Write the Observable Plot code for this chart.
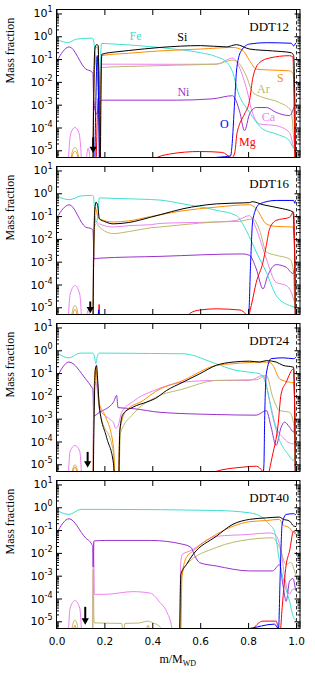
<!DOCTYPE html>
<html><head><meta charset="utf-8">
<script src="https://cdn.jsdelivr.net/npm/d3@7"></script>
<script src="https://cdn.jsdelivr.net/npm/@observablehq/plot@0.6"></script>
<style>
body{margin:0;background:#fff;}
#chart{width:315px;}
#chart svg{display:block;}
</style></head><body><div id="chart"></div><script>
// ---- categories ----
const panelNames = ["DDT12", "DDT16", "DDT24", "DDT40"];
const speciesNames = ["Fe", "Si", "S", "Ar", "Ca", "Ni", "O", "Mg"];
const speciesColors = ["#40E0D0", "#000000", "#FF8C00", "#BDB76B", "#EE82EE", "#9932CC", "#0000FF", "#FF0000"];
const drawOrder = ["Ca", "Ar", "Ni", "Fe", "S", "Si", "Mg", "O"];
const majorTicks = [1e-5, 1e-4, 1e-3, 1e-2, 1e-1, 1, 10];
const minorMultipliers = [2, 3, 4, 5, 6, 7, 8, 9];
const xTicks = [0, 0.2, 0.4, 0.6, 0.8, 1.0];
const xTickLabels = ["0.0", "0.2", "0.4", "0.6", "0.8", "1.0"];

// ---- arrows (m/M_WD position, top and tip mass fraction) ----
const arrowX = [0.151, 0.139, 0.128, 0.118];
const arrowTop = [3.7e-5, 1.8e-5, 3.5e-5, 4.3e-5];
const arrowTip = [8.3e-6, 6e-6, 7.9e-6, 7.8e-6];

// ---- species labels (panel DDT12) ----
const labelSp = ["Fe", "Si", "Ni", "S", "Ar", "Ca", "O", "Mg"];
const labelX = [0.328, 0.523, 0.528, 0.933, 0.862, 0.883, 0.699, 0.795];
const labelY = [1.1, 1.0, 3.6e-3, 0.0155, 5.1e-3, 3.1e-4, 1.5e-4, 2.5e-5];

// ---- DDT12 ----
const ddt12Fe = [[0,0.74],[0.047,0.56],[0.082,0.79],[0.145,0.87],[0.15,0.85],[0.155,0.5],[0.162,0.1],[0.17,0.01],[0.175,8e-4],[0.18,0.03],[0.186,0.51],[0.25,0.47],[0.3,0.44],[0.35,0.4],[0.43,0.34],[0.5,0.28],[0.6,0.2],[0.66,0.14],[0.71,0.074],[0.735,0.025],[0.755,4e-3],[0.8,5.6e-4],[0.86,8.9e-5],[0.917,5.4e-5],[0.97,2.8e-5],[0.99,1.3e-5],[0.997,3e-5]];
const ddt12Si = [[0.148,1e-9],[0.153,1e-3],[0.158,0.3],[0.165,0.45],[0.172,0.42],[0.176,1e-3],[0.18,1e-7],[0.183,1e-3],[0.187,0.17],[0.25,0.22],[0.3,0.25],[0.43,0.34],[0.6,0.41],[0.707,0.36],[0.749,0.45],[0.804,0.29],[0.9,0.24],[0.978,0.2],[0.988,0.15],[0.993,1e-3],[0.996,1e-7]];
const ddt12S = [[0.055,1e-6],[0.062,5e-6],[0.068,8e-6],[0.075,9.5e-6],[0.082,8e-6],[0.088,5e-6],[0.095,1e-6],[0.102,1e-8],[0.148,1e-9],[0.153,1e-3],[0.158,0.25],[0.165,0.35],[0.172,0.3],[0.176,1e-3],[0.18,1e-7],[0.183,1e-3],[0.187,0.15],[0.3,0.19],[0.43,0.24],[0.6,0.29],[0.735,0.34],[0.776,0.25],[0.804,0.09],[0.832,0.038],[0.8875,0.035],[0.971,0.032],[0.985,0.025],[0.993,1e-3],[0.996,1e-7]];
const ddt12Ar = [[0.05,1e-6],[0.058,4e-6],[0.065,1e-5],[0.075,1.4e-5],[0.085,1e-5],[0.092,4e-6],[0.1,1e-6],[0.108,1e-8],[0.148,1e-9],[0.152,1e-3],[0.158,0.05],[0.165,0.1],[0.172,0.06],[0.178,2e-3],[0.186,0.045],[0.3,0.05],[0.5,0.057],[0.665,0.063],[0.735,0.095],[0.7625,0.063],[0.79,0.0195],[0.818,3.6e-3],[0.86,2.2e-3],[0.929,1.3e-3],[0.978,5.6e-4],[0.99,2.5e-5],[0.996,1.5e-5]];
const ddt12Ca = [[0.04,1e-7],[0.045,1e-6],[0.05,1e-5],[0.058,6e-5],[0.075,1.05e-4],[0.092,6e-5],[0.1,1e-5],[0.105,1e-6],[0.112,1e-7],[0.12,2e-6],[0.13,1.3e-5],[0.14,2e-6],[0.145,1e-7],[0.149,1e-8],[0.152,1e-3],[0.156,0.05],[0.165,0.12],[0.172,0.07],[0.178,5e-3],[0.186,0.063],[0.5,0.062],[0.665,0.063],[0.735,0.117],[0.755,0.063],[0.79,6e-3],[0.818,4.1e-4],[0.846,1.5e-4],[0.915,1.26e-4],[0.971,6.3e-5],[0.99,1.26e-5],[0.996,1e-5]];
const ddt12Ni = [[0,0.089],[0.051,0.36],[0.121,0.038],[0.145,0.029],[0.15,0.025],[0.153,2e-3],[0.165,4e-4],[0.175,1e-3],[0.186,1.66e-3],[0.5,1.66e-3],[0.65,1.9e-3],[0.733,2.6e-3],[0.762,5.6e-4],[0.783,7.6e-5],[0.804,4.1e-4],[0.832,7.9e-4],[0.874,7.9e-4],[0.915,4.8e-4],[0.971,3.5e-4],[0.99,8.5e-4]];
const ddt12O = [[0.155,1e-8],[0.162,1e-3],[0.168,0.15],[0.174,1e-3],[0.18,1e-8],[0.3,1e-7],[0.5,3e-6],[0.6,4.5e-6],[0.7,5.5e-6],[0.725,6e-6],[0.73,1.4e-5],[0.742,1.6e-3],[0.751,0.045],[0.77,0.25],[0.804,0.48],[0.874,0.55],[0.978,0.52],[0.988,0.4],[0.996,0.52]];
const ddt12Mg = [[0.16,1e-8],[0.167,1e-4],[0.172,2e-3],[0.177,1e-4],[0.182,1e-8],[0.3,1e-7],[0.4,4e-6],[0.47,7.2e-6],[0.596,9.3e-6],[0.69,8.5e-6],[0.73,5e-6],[0.742,8e-6],[0.751,5.4e-5],[0.76,1.26e-4],[0.783,4.1e-4],[0.804,1.6e-3],[0.818,0.0166],[0.846,0.074],[0.8875,0.117],[0.971,0.148],[0.985,0.13],[0.99,1e-3],[0.995,1e-7]];

// ---- DDT16 ----
const ddt16Fe = [[0,0.79],[0.051,0.55],[0.1,0.8],[0.145,0.85],[0.152,0.8],[0.157,0.2],[0.163,0.057],[0.17,0.1],[0.177,0.66],[0.25,0.62],[0.39,0.56],[0.43,0.53],[0.526,0.36],[0.665,0.19],[0.749,0.11],[0.79,0.025],[0.832,2.8e-3],[0.874,3.6e-4],[0.915,3.5e-5],[0.971,1.26e-5],[0.99,1.1e-5],[0.996,1.4e-5]];
const ddt16Si = [[0.148,1e-9],[0.153,1e-3],[0.158,0.2],[0.163,0.43],[0.17,0.3],[0.177,0.08],[0.2,0.06],[0.235,0.048],[0.3,0.055],[0.39,0.093],[0.43,0.12],[0.526,0.22],[0.665,0.36],[0.78,0.4],[0.804,0.41],[0.815,0.45],[0.86,0.33],[0.943,0.22],[0.985,0.16],[0.993,1e-3],[0.996,1e-7]];
const ddt16S = [[0.062,2e-6],[0.068,6e-6],[0.075,8.5e-6],[0.082,6e-6],[0.088,2e-6],[0.095,1e-8],[0.148,1e-9],[0.153,1e-3],[0.158,0.26],[0.163,0.2],[0.17,0.1],[0.177,0.08],[0.235,0.058],[0.3,0.065],[0.39,0.1],[0.43,0.12],[0.526,0.18],[0.665,0.26],[0.804,0.33],[0.832,0.22],[0.874,0.048],[0.915,0.037],[0.985,0.035],[0.993,1e-3],[0.996,1e-7]];
const ddt16Ar = [[0.055,1e-6],[0.062,5e-6],[0.068,1e-5],[0.075,1.26e-5],[0.082,1e-5],[0.088,5e-6],[0.095,1e-6],[0.102,1e-8],[0.148,1e-9],[0.152,1e-3],[0.158,0.04],[0.165,0.05],[0.177,0.035],[0.235,0.018],[0.3,0.022],[0.39,0.032],[0.43,0.035],[0.526,0.044],[0.665,0.058],[0.7625,0.062],[0.818,0.08],[0.846,0.025],[0.874,2.8e-3],[0.915,2e-3],[0.971,1.4e-3],[0.985,6e-4],[0.993,1e-5]];
const ddt16Ca = [[0.04,1e-7],[0.047,3e-6],[0.055,4e-5],[0.075,9.5e-5],[0.095,4e-5],[0.103,3e-6],[0.11,1e-7],[0.118,1e-6],[0.13,8e-6],[0.142,1e-6],[0.148,1e-8],[0.152,1e-3],[0.157,0.05],[0.165,0.06],[0.177,0.048],[0.235,0.035],[0.3,0.04],[0.39,0.044],[0.43,0.05],[0.526,0.054],[0.665,0.058],[0.749,0.068],[0.804,0.11],[0.832,0.029],[0.874,1.4e-3],[0.915,1.3e-4],[0.957,9.5e-5],[0.985,3e-5],[0.993,1.5e-5]];
const ddt16Ni = [[0,0.093],[0.051,0.33],[0.119,0.035],[0.145,0.029],[0.15,0.025],[0.155,1.4e-3],[0.177,1.5e-3],[0.43,1.8e-3],[0.776,2.3e-3],[0.804,2e-3],[0.832,5.1e-4],[0.86,6.8e-5],[0.88,2.6e-4],[0.915,7.8e-4],[0.957,6e-4],[0.985,3.2e-4],[0.996,1e-3]];
const ddt16O = [[0.168,1e-8],[0.174,8e-6],[0.18,1e-8],[0.4,1e-7],[0.6,4.5e-6],[0.78,5e-6],[0.795,4.5e-6],[0.801,6.5e-6],[0.808,7.2e-4],[0.818,0.079],[0.846,0.36],[0.915,0.51],[0.988,0.51],[0.993,0.38],[0.996,0.5]];
const ddt16Mg = [[0.171,1e-8],[0.176,1.4e-5],[0.181,1e-8],[0.45,1e-7],[0.554,5.6e-6],[0.596,8e-6],[0.665,9e-6],[0.764,8e-6],[0.79,5e-6],[0.797,4e-6],[0.811,1.26e-5],[0.832,1.3e-4],[0.86,1e-3],[0.874,5.4e-3],[0.8875,0.029],[0.915,0.068],[0.971,0.093],[0.9875,0.16],[0.993,1e-3],[0.996,1e-7]];

// ---- DDT24 ----
const ddt24Fe = [[0,0.81],[0.05,0.49],[0.096,0.79],[0.15,0.79],[0.156,0.6],[0.1625,0.27],[0.169,0.6],[0.177,0.79],[0.39,0.76],[0.526,0.74],[0.58,0.58],[0.62,0.4],[0.665,0.27],[0.735,0.15],[0.804,0.115],[0.846,0.098],[0.874,0.03],[0.901,1.2e-3],[0.929,1.2e-4],[0.964,3e-5],[0.9875,1.55e-5],[0.996,4e-5]];
const ddt24Si = [[0.148,1e-9],[0.155,1e-3],[0.16,0.15],[0.165,0.23],[0.17,0.05],[0.177,3.4e-3],[0.207,1.6e-4],[0.236,1.1e-5],[0.245,1e-7],[0.255,1e-7],[0.2625,3.2e-4],[0.276,1.7e-3],[0.318,3.4e-3],[0.374,5.6e-3],[0.41,8e-3],[0.457,0.018],[0.526,0.042],[0.596,0.098],[0.665,0.23],[0.735,0.32],[0.804,0.35],[0.846,0.32],[0.874,0.37],[0.915,0.32],[0.943,0.23],[0.9875,0.19],[0.993,1e-3],[0.996,1e-7]];
const ddt24S = [[0.062,2e-6],[0.068,5.5e-6],[0.075,8e-6],[0.082,5.5e-6],[0.088,2e-6],[0.095,1e-8],[0.148,1e-9],[0.153,1e-3],[0.158,0.1],[0.1625,0.19],[0.168,0.05],[0.177,4.8e-3],[0.2,1.5e-3],[0.236,5.9e-5],[0.243,1e-6],[0.25,1e-7],[0.256,1e-6],[0.262,3.2e-4],[0.29,2.4e-3],[0.36,6.6e-3],[0.41,0.016],[0.526,0.05],[0.665,0.23],[0.735,0.27],[0.86,0.32],[0.89,0.3],[0.905,0.2],[0.929,0.059],[0.971,0.042],[0.988,0.04],[0.993,1e-3],[0.996,1e-7]];
const ddt24Ar = [[0.058,2e-6],[0.065,6e-6],[0.075,1e-5],[0.085,6e-6],[0.092,2e-6],[0.1,1e-8],[0.148,1e-9],[0.153,1e-3],[0.158,0.05],[0.1625,0.15],[0.168,0.04],[0.177,2.9e-3],[0.236,3.2e-5],[0.245,1e-7],[0.255,1e-7],[0.265,2.5e-4],[0.318,1.7e-3],[0.41,8.9e-3],[0.526,0.021],[0.665,0.05],[0.832,0.054],[0.874,0.083],[0.901,9.3e-3],[0.929,2.4e-3],[0.971,2e-3],[0.988,6.3e-4],[0.996,2e-5]];
const ddt24Ca = [[0.04,1e-7],[0.047,3e-6],[0.055,4e-5],[0.075,7e-5],[0.095,4e-5],[0.103,3e-6],[0.11,1e-7],[0.148,1e-9],[0.152,1e-3],[0.157,0.03],[0.1625,0.042],[0.168,0.02],[0.177,2.9e-3],[0.22,1e-3],[0.236,7e-4],[0.245,4e-4],[0.255,5e-4],[0.27,2e-3],[0.318,6e-3],[0.41,0.019],[0.526,0.042],[0.665,0.05],[0.804,0.05],[0.86,0.083],[0.8875,6.6e-3],[0.915,4.5e-4],[0.943,1.6e-4],[0.985,8.3e-5],[0.996,1e-4]];
const ddt24Ni = [[0,0.069],[0.05,0.32],[0.119,0.059],[0.145,0.025],[0.15,0.02],[0.153,1.4e-3],[0.177,2e-3],[0.236,5.6e-3],[0.249,0.011],[0.255,3.2e-3],[0.318,2.9e-3],[0.43,2e-3],[0.665,1.6e-3],[0.832,1.5e-3],[0.874,2.4e-3],[0.894,4.5e-4],[0.915,7e-5],[0.936,4.5e-4],[0.95,7.4e-4],[0.971,4.5e-4],[0.988,2.7e-4],[0.996,1e-3]];
const ddt24O = [[0.6,4e-6],[0.86,4e-6],[0.864,1e-5],[0.867,8.7e-4],[0.874,0.098],[0.894,0.45],[0.943,0.49],[0.988,0.45],[0.996,0.5]];
const ddt24Mg = [[0.62,1e-6],[0.66,5e-6],[0.776,7.9e-6],[0.832,8.7e-6],[0.86,5e-6],[0.875,3e-6],[0.901,3e-5],[0.922,4.5e-4],[0.936,0.013],[0.957,0.042],[0.9875,0.16],[0.993,1e-3],[0.996,1e-7]];

// ---- DDT40 ----
const ddt40Fe = [[0,0.76],[0.05,0.51],[0.1,0.85],[0.2,0.85],[0.665,0.76],[0.804,0.6],[0.86,0.36],[0.886,0.19],[0.908,0.093],[0.929,4.6e-3],[0.95,4.4e-4],[0.971,7.9e-5],[0.988,1.5e-5],[0.996,1.2e-5]];
const ddt40Si = [[0.508,1e-9],[0.513,1e-5],[0.517,1.2e-3],[0.54,3.2e-3],[0.568,8.9e-3],[0.665,0.056],[0.735,0.19],[0.804,0.31],[0.874,0.36],[0.929,0.39],[0.943,0.32],[0.971,0.26],[0.9875,0.16],[0.997,0.15]];
const ddt40S = [[0.065,2e-6],[0.07,5e-6],[0.075,7e-6],[0.08,5e-6],[0.085,2e-6],[0.09,1e-8],[0.36,1e-8],[0.372,3e-6],[0.38,7e-6],[0.388,3e-6],[0.4,1e-8],[0.51,1e-9],[0.518,1e-5],[0.522,1e-3],[0.54,6.5e-3],[0.568,0.0126],[0.665,0.068],[0.735,0.155],[0.804,0.245],[0.874,0.275],[0.929,0.31],[0.943,0.18],[0.971,0.13],[0.9875,0.08],[0.997,0.07]];
const ddt40Ar = [[0.058,2e-6],[0.065,7e-6],[0.075,1.2e-5],[0.085,7e-6],[0.092,2e-6],[0.1,1e-8],[0.147,1e-9],[0.151,2e-3],[0.155,9e-6],[0.2,8.7e-6],[0.27,8.5e-6],[0.277,3e-6],[0.284,8.5e-6],[0.34,8.8e-6],[0.38,1.07e-5],[0.4,9e-6],[0.43,6e-6],[0.45,1e-7],[0.51,1e-9],[0.517,1.2e-4],[0.522,1.2e-3],[0.54,3.2e-3],[0.665,0.018],[0.804,0.041],[0.9,0.048],[0.929,0.018],[0.957,3.2e-3],[0.975,4e-3],[0.996,1.2e-3]];
const ddt40Ca = [[0.04,1e-7],[0.047,3e-6],[0.055,4e-5],[0.075,8.5e-5],[0.095,4e-5],[0.103,3e-6],[0.11,1e-7],[0.147,1e-9],[0.151,1e-3],[0.153,0.03],[0.156,1.6e-4],[0.2,1.6e-4],[0.318,2.1e-4],[0.39,1.8e-4],[0.43,7e-5],[0.457,2.9e-5],[0.48,5e-6],[0.49,1e-7],[0.512,1e-7],[0.516,3e-3],[0.523,9e-3],[0.554,0.0126],[0.665,0.056],[0.804,0.068],[0.886,0.079],[0.908,0.07],[0.936,0.0126],[0.95,1e-3],[0.971,1.6e-4],[0.985,2.8e-4],[0.996,2.5e-4]];
const ddt40Ni = [[0,0.083],[0.05,0.33],[0.119,0.048],[0.145,0.025],[0.149,0.02],[0.151,2.5e-3],[0.154,0.035],[0.2,0.037],[0.39,0.037],[0.526,0.025],[0.56,0.018],[0.575,8e-3],[0.596,3.9e-3],[0.665,2.8e-3],[0.804,1.7e-3],[0.9,1.7e-3],[0.929,3.2e-3],[0.943,4.4e-4],[0.957,7.9e-5],[0.971,6e-4],[0.985,7.9e-4],[0.996,2.5e-4]];
const ddt40O = [[0.7,4e-6],[0.8,5e-6],[0.908,7.9e-6],[0.925,5e-6],[0.932,1.2e-3],[0.94,0.19],[0.957,0.51],[0.988,0.55],[0.996,0.5]];
const ddt40Mg = [[0.78,1e-6],[0.82,5e-6],[0.86,1.07e-5],[0.915,1.07e-5],[0.925,5e-6],[0.932,4e-6],[0.94,4.1e-5],[0.957,3.2e-3],[0.971,0.0126],[0.9875,0.093],[0.996,0.08]];

// table built from the arrays above
const series = {
  DDT12: {Fe: ddt12Fe, Si: ddt12Si, S: ddt12S, Ar: ddt12Ar, Ca: ddt12Ca, Ni: ddt12Ni, O: ddt12O, Mg: ddt12Mg},
  DDT16: {Fe: ddt16Fe, Si: ddt16Si, S: ddt16S, Ar: ddt16Ar, Ca: ddt16Ca, Ni: ddt16Ni, O: ddt16O, Mg: ddt16Mg},
  DDT24: {Fe: ddt24Fe, Si: ddt24Si, S: ddt24S, Ar: ddt24Ar, Ca: ddt24Ca, Ni: ddt24Ni, O: ddt24O, Mg: ddt24Mg},
  DDT40: {Fe: ddt40Fe, Si: ddt40Si, S: ddt40S, Ar: ddt40Ar, Ca: ddt40Ca, Ni: ddt40Ni, O: ddt40O, Mg: ddt40Mg}
};

const SERIF = "'Liberation Serif', 'DejaVu Serif', serif";
const SANS = "'DejaVu Sans', sans-serif";
const yDomain = [5.08e-6, 15.7];
const xDomain = [-0.002, 1.0146];
const minorTicks = [];
for (let e = -6; e <= 1; e++) for (const m of minorMultipliers) {
  const v = m * Math.pow(10, e);
  if (v >= yDomain[0] && v <= yDomain[1]) minorTicks.push(v);
}
const layout = [
  {top: 9, bottom: 4},
  {top: 5, bottom: 4},
  {top: 5, bottom: 4},
  {top: 5, bottom: 47}
];
const frameH = 148;

function panel(i) {
  const name = panelNames[i];
  const isLast = i === panelNames.length - 1;
  const rows = [];
  drawOrder.forEach(sp => series[name][sp].forEach(([x, y]) => rows.push({x, y, sp})));
  const marks = [
    Plot.ruleX([1], {stroke: "black", strokeWidth: 0.8, strokeDasharray: "3.5,2.5"}),
    Plot.line(rows, {x: "x", y: "y", z: "sp", stroke: "sp", strokeWidth: 1, curve: "monotone-x", clip: true}),
    Plot.ruleX([i], {x: d => arrowX[d], y1: d => arrowTop[d], y2: d => arrowTip[d], stroke: "black", strokeWidth: 2, insetBottom: 4}),
    Plot.dot([i], {x: d => arrowX[d], y: d => arrowTip[d], symbol: "triangle", rotate: 180, r: 2.7, fill: "black", dy: -3.8}),
    Plot.text([name], {frameAnchor: "top-right", dx: -11, dy: 17, lineAnchor: "middle", textAnchor: "end", fontFamily: SERIF, fontSize: 13, fontWeight: "normal", fill: "black"}),
    Plot.text(["Mass fraction"], {frameAnchor: "left", rotate: -90, dx: -46, fontFamily: SERIF, fontSize: 12, fontWeight: "normal", fill: "black"}),
    Plot.axisY(majorTicks, {anchor: "left", tickSize: -6, tickPadding: 10, tickFormat: d => String(Math.round(Math.log10(d))), label: null, fontSize: 11}),
    Plot.axisY(minorTicks, {anchor: "left", tickSize: -3, tickFormat: () => "", label: null}),
    Plot.axisY(majorTicks, {anchor: "right", tickSize: -6, tickFormat: () => "", label: null}),
    Plot.axisY(minorTicks, {anchor: "right", tickSize: -3, tickFormat: () => "", label: null}),
    Plot.axisX(xTicks, {anchor: "top", tickSize: -5, tickFormat: () => "", label: null}),
    Plot.axisX(xTicks, {anchor: "bottom", tickSize: -5, tickPadding: 14, tickFormat: isLast ? ((d, k) => xTickLabels[k]) : () => "", label: null, fontSize: 10.5}),
    Plot.frame({stroke: "black", strokeWidth: 1})
  ];
  if (i === 0) {
    const lab = labelSp.map((s, k) => ({sp: s, x: labelX[k], y: labelY[k]}));
    marks.push(Plot.text(lab, {x: "x", y: "y", text: "sp", fill: "sp", fontFamily: SERIF, fontSize: 12}));
  }
  const L = layout[i];
  const svg = Plot.plot({
    width: 315,
    height: L.top + frameH + L.bottom,
    marginTop: L.top, marginBottom: L.bottom, marginLeft: 56, marginRight: 15.5,
    style: {fontFamily: SANS, fontSize: "11px", background: "white", overflow: "visible"},
    x: {domain: xDomain, label: null},
    y: {type: "log", domain: yDomain, label: null},
    color: {domain: speciesNames, range: speciesColors},
    marks
  });
  // superscript exponents on the y tick labels
  d3.select(svg).selectAll('g[aria-label="y-axis tick label"] text').each(function() {
    const e = this.textContent;
    if (!e) return;
    const t = d3.select(this);
    t.text("10");
    t.append("tspan").attr("dy", "-5").attr("font-size", "8px").text(e);
  });
  if (isLast) {
    const sx = svg.scale("x");
    const xc = (sx.apply(xDomain[0]) + sx.apply(xDomain[1])) / 2;
    const t = d3.select(svg).append("text")
      .attr("x", xc).attr("y", L.top + frameH + 35)
      .attr("text-anchor", "middle").attr("font-family", SERIF).attr("font-size", "12px").attr("fill", "black");
    t.append("tspan").text("m/M");
    t.append("tspan").attr("dy", "3").attr("font-size", "8px").text("WD");
  }
  return svg;
}

const root = document.getElementById("chart");
panelNames.forEach((_, i) => root.appendChild(panel(i)));
</script></body></html>
